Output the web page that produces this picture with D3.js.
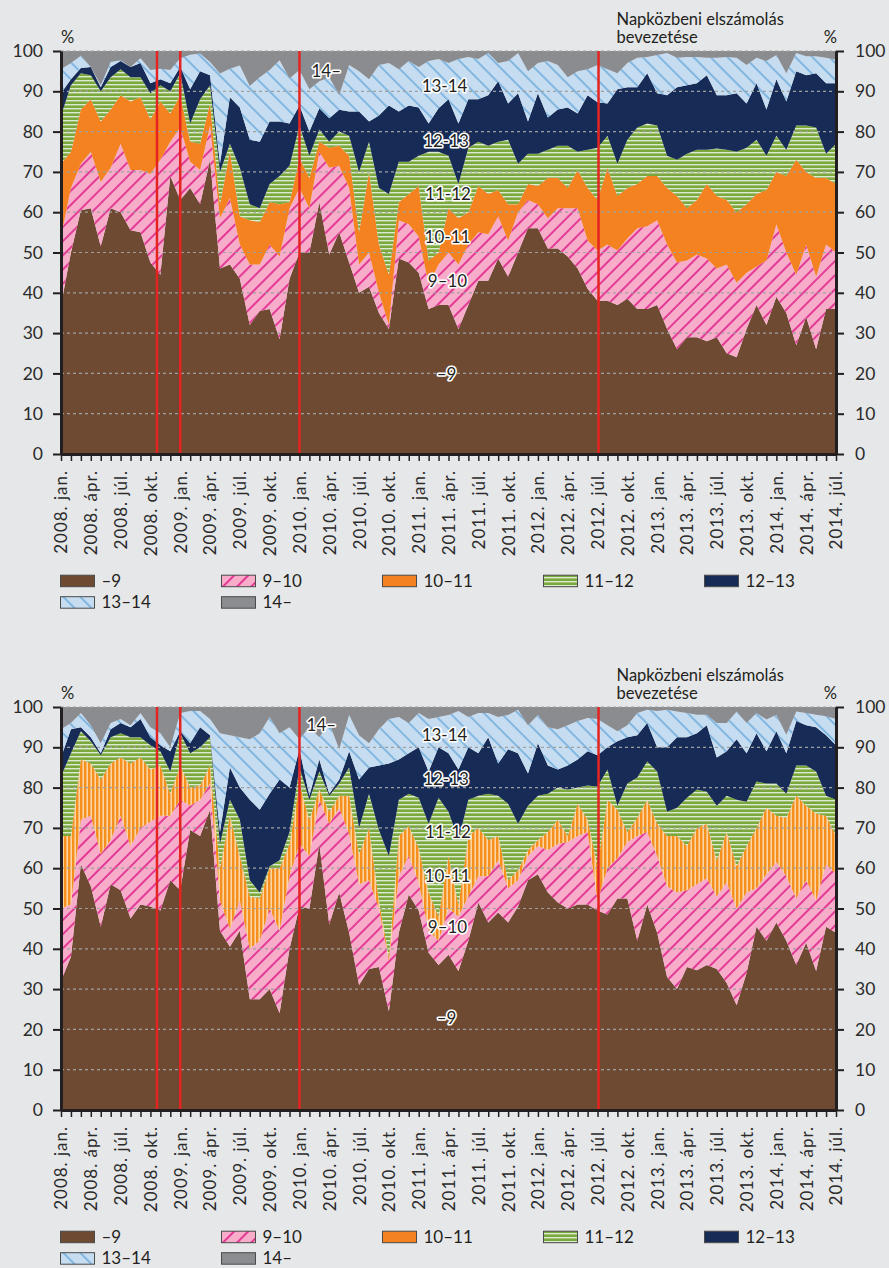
<!DOCTYPE html>
<html>
<head>
<meta charset="utf-8">
<script src="https://cdn.jsdelivr.net/npm/d3@7"></script>
<style>
  body { margin: 0; background: #e6e7e8; }
  svg { display: block; }
</style>
</head>
<body>
<svg id="chart" width="889" height="1268"></svg>
<script>
// sávok (elszámolás időpontja szerint)
const bands = ['–9', '9–10', '10–11', '11–12', '12–13', '13–14', '14–'];
const bandLabels = ['–9', '9–10', '10-11', '11-12', '12-13', '13-14', '14–'];

const years = [2008, 2009, 2010, 2011, 2012, 2013, 2014];
const monthNames = ['jan.', 'febr.', 'márc.', 'ápr.', 'máj.', 'jún.', 'júl.', 'aug.', 'szept.', 'okt.', 'nov.', 'dec.'];
const months = [];
years.forEach(y => monthNames.forEach(m => months.push(y + '. ' + m)));
months.length = 79; // 2008. jan. - 2014. júl.

// függőleges piros vonalak (hónap-index)
const eventMonths = [9.66, 12, 24, 54.1];

// felső ábra: kumulált arány (%) az adott óráig
const p1_by09 = [37,50,60.5,61,51.5,61,60,55.5,55,47.5, 44.5,69,63,66,62,73,46,47,43.5,32, 35.5,36,28.5,43.5,50,50,62.5,49.5,55,47.5, 40,41.5,35,31,48.5,47.5,45,36,37,37, 31,37,43,43,48.5,44,50,56,56,51, 51,49,46,41,38,38,37,38.5,36,36, 37,31,26,29,29,28,29,25,24,31, 37,32,39,35,27,34,26,36,36];
const p1_by10 = [54,66,72,75,67.5,71,77,70.5,70.5,69.5, 73,77.5,81,72.5,70.5,81.5,58.5,63.5,52,47, 47,52,49,61,66,61,75,71,71.5,66, 47,50,40,32,58,57,54,42,47,50, 47,52,55,54.5,59,53,60,63,62,58.5, 61,61,61,53,50.5,52,50.5,53.5,56,56.5, 58,52,47.5,48,49.5,48.5,46,47,42.5,45, 46.5,48,57,50,44.5,52,44,52,50];
const p1_by11 = [72,75,85.5,88,82.5,85.5,89,87.5,88.5,83, 87.5,84.5,89,77.5,77,87,62,75,59,58, 57.5,62.5,62,62.5,73.5,68.5,77.5,76,76.5,74, 55,70,52,44.5,62.5,64.5,66.5,48,50,61, 58.5,60,66.5,64.5,65.5,62,62,67,66.5,68.5, 68.5,66,70.5,66,63,71,64,66,67,69, 69,66,64,61,63,67,64,63,60,62, 64.5,65.5,70,69,73,70,68.5,68.5,67];
const p1_by12 = [84,91.5,94.5,94,90,93.5,95.5,93.5,93.5,89.5, 91.5,90,94.5,82,88,91.5,70,77,71,62, 61,67,69,71.5,81.5,74,80.5,77.5,80,79, 70,77.5,66,64.5,72.5,72.5,74,75,75,74, 67,76,77.5,76.5,77.5,78,72,74.5,74.5,75.5, 76.5,76.5,75,75.5,76,79,72,78,81,82, 81.5,74,73,74.5,75.5,75.5,75.8,75.5,75,76, 78,74,79,75.5,81.5,81.5,81,74.5,77];
const p1_by13 = [89.5,93,95.8,96,91,96,97.5,96,97,92, 93,92,96,90.5,95,94,72,88.5,86,78, 77.5,82.5,82.5,82,86.5,80,85.8,83.3,85.4,85, 85,82.5,84,86.5,85,86.5,86,82,85.8,88, 82,88,88,89,92.5,87,89.5,82.5,89.5,83.5, 85.5,86,84.5,89,87.3,87,90.5,91,91,94.5, 89.5,89,91,91.5,92,94,89,89,89.5,87, 92,85.5,93,87.5,95,94,94.5,92,92];
const p1_by14 = [95.5,97,98.8,96,91.5,97.3,97.7,96,98.2,95.3, 95.6,95.3,98.2,99.1,99.4,97.3,94.4,95.6,96.4,91.3, 93.5,95.3,97.7,93.2,95.3,90.5,92.5,93.5,89,96.5, 95,93,96.5,97,95.5,97.5,96,97.5,98,97, 98,98.5,98,99.5,97,97.5,99.5,95,97,97.5, 96.5,93.5,95,95.5,96.5,95.5,94.5,97,98.3,98.5, 99,99.5,98.3,98.5,98.5,98.3,98.3,98.5,98.3,96.5, 98.3,97.5,99,94.5,99.5,98.7,98.7,98.3,97.8];

// alsó ábra
const p2_by09 = [32,38,61,55.5,45.5,56,54.5,47.5,51,50.5, 49.5,57,54.5,69.5,68,74.5,44.5,40.5,44.5,27.5, 27.5,30,24,40,50.5,50,66,46,54,44, 31,35,35.5,24.5,44,53.5,49.5,39,36,38.5, 34.5,42,51.5,46.5,49,46.5,50.5,57,58.5,54, 51.5,50,51,51,49.5,48.5,52.5,52.5,42,51, 44,33,30,35.5,34.7,36,35,31.5,26,34, 45.5,42,46.5,42,36,41.5,34.5,45.5,44];
const p2_by10 = [50,51,72,73,63.5,67,73,65.5,70,71.5, 73,73,77,75.5,77,81,52,45,52,40, 42,50,44.5,58,66,63,77,71,75,68.5, 56,57,50,37,58,63,56.5,44.5,42,50, 48,53,58,58,62,55,57,63,65.5,64.5, 66,66.5,68,69,52,60,62.5,66.5,68,69, 63,55.5,54,54.5,56,57.5,53,56.5,50,54, 55,58.5,61.5,58,52.5,57,52,61,58.5];
const p2_by11 = [68,68,87,86,82,86,87.5,86,87.5,84.5, 85.5,78.5,85.5,80,80.5,85.5,60,73,63,53, 52.5,60,60,66,81,72,79.5,74,78,78, 63.5,70,52,38,68,70.5,65,54,48,63, 51,68,70,67,68,57,59.5,64.5,67,69, 72,68,76,72,60.5,77,74.5,69,72.5,77, 71,68,68,65.5,70,71,62,69,60.5,65.5, 70,75,73,72.5,78,75.5,73.5,73,68];
const p2_by12 = [82.8,88.5,94,91.5,88,92.5,93.5,92.5,92.5,90.5, 89,84,93.5,88.5,90,92.5,66,77,72,57, 54,60.5,62,69,85,77,84,78,81,85, 70,78.5,69.5,63,77,78.5,77.5,71,77.5,74, 67,77,78,78.5,78,76,71,75.5,78,78.5, 80,79.5,80,80.5,80.3,84.5,75.5,81,82.5,86.5, 84,74,75,77.5,79.5,79,75.5,78,77,76.5, 81.5,81,81,78.5,85.5,85.5,84,78,77];
const p2_by13 = [87.5,94.5,95,92.5,88.5,94.5,96,95,97,92.5, 90.5,89,94,91,95,93,69,85,80,77, 74.5,78.5,82,80,89.5,78,87,78.5,82,89, 82,85,85.5,86,87,88.5,90,84,90,88.5, 84.5,90,88.5,92.5,86,89.5,88.5,83.5,91,85.5, 84.5,85.5,87,89,88,90,91.5,92.5,93,96, 90,90,92.5,92.5,93.5,95.5,87.5,89,92,88.5, 93.5,89,94,88.5,96.5,95.5,95,93,90.5];
const p2_by14 = [94.5,96,98.5,95.5,91,96,97,95.5,98.5,95, 93.5,90,98.5,99,99,97,93.5,93,92.5,92, 93.5,97.5,93.5,95,92,95,92.5,96,89.5,98, 93,91,94.5,97,97.5,96,98.5,97,97.5,98, 99,97.5,98.5,98.5,97.5,98,99.3,95.5,98,95, 94.5,95.5,96.5,97.3,97,95.5,94,95.5,98.5,99.3, 99,99.3,98.9,98.5,98.1,98.1,96,96,98.9,96, 98.5,96.9,98.1,93.1,98.9,98.5,98.1,97.7,97];

const FONT = 'Lato, "Open Sans", sans-serif';
const INK = '#231f20';
const x0 = 61, x1 = 836, plotH = 403;

const svg = d3.select('#chart').attr('font-family', FONT);
const defs = svg.append('defs');

// mintázatok
function hatch(id, bg, fg, angle, gap, w) {
	let p = defs.append('pattern').attr('id', id)
		.attr('patternUnits', 'userSpaceOnUse')
		.attr('width', gap).attr('height', gap)
		.attr('patternTransform', 'rotate(' + angle + ')');
	p.append('rect').attr('width', gap).attr('height', gap).attr('fill', bg);
	p.append('line').attr('x1', gap / 2).attr('x2', gap / 2).attr('y1', -1).attr('y2', gap + 1)
		.attr('stroke', fg).attr('stroke-width', w);
}
function stripes(id, bg, fg, period, w, vertical) {
	let p = defs.append('pattern').attr('id', id)
		.attr('patternUnits', 'userSpaceOnUse')
		.attr('width', period).attr('height', period);
	p.append('rect').attr('width', period).attr('height', period).attr('fill', bg);
	if (vertical) {
		p.append('rect').attr('width', w).attr('height', period).attr('fill', fg);
	} else {
		p.append('rect').attr('width', period).attr('height', w).attr('fill', fg);
	}
}
hatch('hatchPink', '#f7adc9', '#e0268c', 45, 10, 1.7);
hatch('hatchBlue', '#c6dcf1', '#5ea3d7', -45, 12, 1.3);
stripes('stripeGreen', '#7aa83c', '#dcead0', 4, 1.4, false);
stripes('stripeOrange', '#fdd3a0', '#f5901e', 4, 2.4, true);

const x = d3.scaleLinear().domain([0, months.length - 1]).range([x0, x1]);

function drawPanel(cfg) {
	const g = svg.append('g');
	const y = d3.scaleLinear().domain([0, 100]).range([cfg.top + plotH, cfg.top]);
	const fills = ['#6e4a32', 'url(#hatchPink)', cfg.stripedOrange ? 'url(#stripeOrange)' : '#f58220',
		'url(#stripeGreen)', '#172b57', 'url(#hatchBlue)', '#8b8c90'];
	// sávhatárok havonta: 0, ..., 100
	const rows = months.map((m, i) => [0].concat(cfg.cum.map(s => s[i]), [100]));

	bands.forEach((b, k) => {
		let area = d3.area()
			.x((d, i) => x(i))
			.y0(d => y(d[k]))
			.y1(d => y(d[k + 1]));
		g.append('path').datum(rows).attr('d', area).attr('fill', fills[k]);
	});

	//rácsvonalak
	g.append('g').selectAll('line').data(d3.range(10, 101, 10)).join('line')
		.attr('x1', x0).attr('x2', x1)
		.attr('y1', d => y(d)).attr('y2', d => y(d))
		.attr('stroke', '#a0a0a0').attr('stroke-width', 1.2).attr('stroke-dasharray', '3,3');

	// események
	g.append('g').selectAll('line').data(eventMonths).join('line')
		.attr('x1', d => x(d)).attr('x2', d => x(d))
		.attr('y1', y(100)).attr('y2', y(0))
		.attr('stroke', '#e52421').attr('stroke-width', 2.5);

	// tengelyek
	const styleAxis = (ga) => {
		ga.attr('font-family', FONT).attr('font-size', 17.5);
		ga.select('.domain').attr('stroke', INK).attr('stroke-width', 3);
		ga.selectAll('.tick line').attr('stroke', INK).attr('stroke-width', 2);
		ga.selectAll('.tick text').attr('fill', '#2b2b2b');
	};
	g.append('g').attr('transform', 'translate(' + x0 + ',0)')
		.call(d3.axisLeft(y).tickValues(d3.range(0, 101, 10)).tickSize(8).tickSizeOuter(0).tickPadding(10))
		.call(styleAxis);
	g.append('g').attr('transform', 'translate(' + x1 + ',0)')
		.call(d3.axisRight(y).tickValues(d3.range(0, 101, 10)).tickSize(8).tickSizeOuter(0).tickPadding(11))
		.call(styleAxis);
	const gx = g.append('g').attr('transform', 'translate(0,' + y(0) + ')')
		.call(d3.axisBottom(x).tickValues(d3.range(months.length)).tickSize(7).tickSizeOuter(0)
			.tickFormat(i => i % 3 === 0 ? months[i] : ''))
		.call(styleAxis);
	gx.selectAll('.tick line').attr('stroke-width', 1.5);
	gx.selectAll('.tick text')
		.attr('font-size', 17)
		.attr('letter-spacing', 1)
		.attr('transform', 'rotate(-90)')
		.attr('text-anchor', 'end')
		.attr('x', -16).attr('y', 0).attr('dy', '0.35em');

	// sávfeliratok
	g.append('g').selectAll('text').data(cfg.labelPos).join('text')
		.attr('x', d => x(d[0])).attr('y', d => y(d[1]))
		.attr('text-anchor', 'middle')
		.attr('font-size', 17)
		.attr('fill', INK)
		.attr('stroke', '#fff').attr('stroke-width', 3.2)
		.attr('stroke-linejoin', 'round').attr('paint-order', 'stroke')
		.text((d, i) => bandLabels[i]);

	// fejléc
	const head = g.append('g').attr('font-size', 16.5).attr('fill', INK);
	head.append('text').attr('x', x0).attr('y', cfg.top - 8).text('%');
	head.append('text').attr('x', x1 + 1).attr('y', cfg.top - 8).attr('text-anchor', 'end').text('%');
	head.append('text').attr('x', x(eventMonths[3]) + 18).attr('y', cfg.top - 26).text('Napközbeni elszámolás');
	head.append('text').attr('x', x(eventMonths[3]) + 18).attr('y', cfg.top - 8).text('bevezetése');

	// jelmagyarázat
	const legendY = cfg.top + plotH + 127;
	const items = g.append('g').selectAll('g').data(bands).join('g')
		.attr('transform', (d, k) => 'translate(' + (60.5 + (k % 5) * 161) + ',' + (legendY + Math.floor(k / 5) * 21.5) + ')');
	items.append('rect')
		.attr('x', 0).attr('y', -5.8).attr('width', 34).attr('height', 11.5)
		.attr('fill', (d, k) => k === 2 ? '#f58220' : fills[k])
		.attr('stroke', '#4a4a4a').attr('stroke-width', 1);
	items.append('text')
		.attr('x', 41).attr('y', 5.5)
		.attr('font-size', 17).attr('fill', INK)
		.text(d => d);
}

drawPanel({
	top: 51,
	cum: [p1_by09, p1_by10, p1_by11, p1_by12, p1_by13, p1_by14],
	stripedOrange: false,
	labelPos: [[38.8, 18.4], [38.9, 41.4], [38.9, 52.4], [38.95, 63], [38.75, 76.2], [38.6, 89.8], [26.7, 93.6]]
});
drawPanel({
	top: 707,
	cum: [p2_by09, p2_by10, p2_by11, p2_by12, p2_by13, p2_by14],
	stripedOrange: true,
	labelPos: [[38.8, 21.3], [38.9, 43.9], [38.9, 56.6], [38.95, 67.5], [38.75, 80.6], [38.6, 91.6], [26.2, 94.0]]
});
</script>
</body>
</html>
